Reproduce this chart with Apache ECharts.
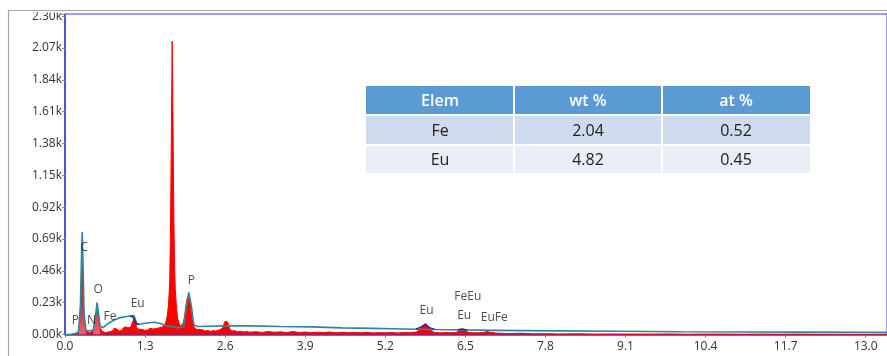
<!DOCTYPE html>
<html>
<head>
<meta charset="utf-8">
<script src="https://cdn.jsdelivr.net/npm/echarts@6/dist/echarts.min.js"></script>
<style>
  html, body { margin: 0; padding: 0; background: #ffffff; }
  #chart { width: 887px; height: 356px; }
</style>
</head>
<body>
<div id="chart"></div>
<script>
// EDS spectrum: energy (keV) vs counts
const specEnergy = [
  0.00, 0.10, 0.14, 0.18, 0.22, 0.24, 0.26, 0.27, 0.28, 0.29, 0.30, 0.32, 0.34, 0.36, 0.40, 0.44, 0.48, 0.50,
  0.52, 0.53, 0.55, 0.57, 0.60, 0.63, 0.66, 0.68, 0.70, 0.72, 0.74, 0.76, 0.78, 0.80, 0.82, 0.84, 0.86, 0.88,
  0.90, 0.92, 0.94, 0.96, 0.98, 1.00, 1.02, 1.04, 1.06, 1.08, 1.10, 1.12, 1.14, 1.16, 1.18, 1.20, 1.22, 1.24,
  1.26, 1.28, 1.30, 1.32, 1.34, 1.36, 1.38, 1.40, 1.42, 1.44, 1.46, 1.48, 1.50, 1.52, 1.54, 1.56, 1.58, 1.60,
  1.62, 1.64, 1.66, 1.68, 1.70, 1.71, 1.72, 1.73, 1.74, 1.75, 1.76, 1.77, 1.78, 1.79, 1.81, 1.83, 1.85, 1.87,
  1.89, 1.92, 1.94, 1.96, 1.98, 2.00, 2.02, 2.04, 2.06, 2.08, 2.10, 2.12, 2.14, 2.16, 2.18, 2.20, 2.24, 2.28,
  2.32, 2.36, 2.40, 2.44, 2.48, 2.52, 2.56, 2.58, 2.60, 2.62, 2.64, 2.66, 2.68, 2.72, 2.76, 2.80, 2.85, 2.90,
  2.95, 3.00, 3.10, 3.20, 3.30, 3.40, 3.50, 3.60, 3.70, 3.80, 3.90, 4.00, 4.10, 4.20, 4.30, 4.40, 4.50, 4.60,
  4.70, 4.80, 4.90, 5.00, 5.10, 5.20, 5.30, 5.40, 5.50, 5.60, 5.70, 5.75, 5.80, 5.85, 5.90, 5.95, 6.00, 6.10,
  6.20, 6.30, 6.35, 6.40, 6.45, 6.50, 6.55, 6.65, 6.75, 6.80, 6.85, 6.90, 7.00, 7.20, 7.40, 7.60, 7.80, 8.00,
  8.30, 8.60, 8.90, 9.20, 9.50, 9.80, 10.1, 10.4, 10.7, 11.0, 11.3, 11.6, 11.9, 12.2, 12.5, 12.8, 13.1, 13.4
];
const specCounts = [
  0, 0, 4, 8, 20, 80, 300, 480, 560, 420, 200, 60, 25, 15, 12, 20, 40, 110,
  170, 180, 120, 50, 25, 20, 12, 25, 18, 30, 22, 35, 28, 45, 55, 40, 30, 25,
  35, 30, 45, 38, 55, 42, 50, 60, 48, 70, 95, 110, 90, 55, 40, 50, 38, 45,
  35, 42, 30, 40, 32, 38, 45, 35, 40, 30, 42, 35, 45, 38, 50, 42, 55, 60,
  70, 95, 135, 210, 380, 680, 1100, 1600, 2120, 1720, 1180, 760, 480, 330, 190, 115, 80, 60,
  55, 80, 130, 200, 255, 275, 260, 195, 120, 75, 50, 40, 35, 30, 38, 28, 32, 25,
  30, 22, 28, 25, 30, 35, 50, 75, 95, 100, 90, 60, 35, 25, 28, 20, 24, 18,
  22, 17, 20, 15, 22, 16, 19, 14, 21, 15, 18, 13, 17, 14, 18, 12, 16, 13,
  15, 12, 16, 11, 14, 12, 15, 11, 14, 13, 18, 30, 60, 80, 55, 25, 15, 12,
  14, 13, 15, 28, 35, 30, 15, 12, 13, 15, 22, 16, 10, 7, 9, 5, 6, 4,
  5, 3, 4, 3, 3, 4, 2, 3, 3, 2, 3, 2, 3, 2, 2, 2, 2, 2
];

// Fitted background with C / O / P peaks
const fitEnergy = [
  0.00, 0.10, 0.18, 0.22, 0.25, 0.27, 0.28, 0.29, 0.31, 0.34, 0.40, 0.46, 0.50, 0.52, 0.54, 0.57, 0.62, 0.70,
  0.80, 0.90, 1.00, 1.08, 1.12, 1.15, 1.17, 1.25, 1.35, 1.45, 1.55, 1.62, 1.75, 1.85, 1.93, 1.97, 2.01, 2.05,
  2.09, 2.15, 2.30, 2.60, 3.00, 3.50, 4.00, 4.50, 5.00, 5.50, 6.00, 7.00, 8.00, 9.00, 10.0, 11.0, 12.0, 13.0, 13.4
];
const fitCounts = [
  0, 2, 8, 20, 200, 600, 740, 560, 150, 30, 25, 35, 150, 230, 170, 60, 50, 80,
  105, 122, 130, 135, 137, 100, 72, 78, 85, 88, 80, 65, 55, 48, 60, 200, 305, 210,
  70, 58, 60, 62, 62, 58, 55, 48, 44, 40, 36, 30, 26, 23, 20, 18, 17, 16, 15
];

// Shaded light-element peaks (C, O)
const lightPeakEnergy = [0.22, 0.25, 0.27, 0.28, 0.29, 0.31, 0.34, null, 0.46, 0.50, 0.52, 0.54, 0.57];
const lightPeakCounts = [20, 200, 600, 740, 560, 150, 30, null, 35, 150, 230, 170, 60];

// Eu M / Eu L fitted line segments
const euFitEnergy = [1.06, 1.10, 1.13, 1.16, 1.20, null, 5.70, 5.78, 5.85, 5.92, 6.00, null, 6.38, 6.45, 6.52];
const euFitCounts = [132, 128, 120, 78, 72, null, 38, 55, 72, 50, 36, null, 34, 40, 33];

// Element markers: [energy, counts, text]
const markerEnergy = [0.17, 0.43, 0.31, 0.54, 0.73, 1.18, 2.05, 5.87, 6.54, 6.48, 6.97];
const markerCounts = [98, 98, 625, 322, 127, 220, 387, 170, 271, 134, 119];
const markerText = ['P', 'N', 'C', 'O', 'Fe', 'Eu', 'P', 'Eu', 'FeEu', 'Eu', 'EuFe'];

// Quantification table
const tableHeader = ['Elem', 'wt %', 'at %'];
const tableElem = ['Fe', 'Eu'];
const tableWt = ['2.04', '4.82'];
const tableAt = ['0.52', '0.45'];

// Axis ticks
const xTickStep = 1.3;
const yTickStep = 230;

const zip = (xs, ys) => xs.map((x, i) => (x === null ? null : [x, ys[i]]));

const FONT = '"Open Sans", "Noto Sans", sans-serif';

// Table built as graphic elements
const tbl = { colX: [366, 514, 662, 810], rowY: [86, 115, 145, 174] };
const rowFill = ['#5b9bd5', '#cfdaee', '#e8edf7'];
const tableRows = [tableHeader].concat(tableElem.map((e, i) => [e, tableWt[i], tableAt[i]]));
const tableGraphics = [];
tableRows.forEach((row, r) => {
  row.forEach((txt, c) => {
    const x0 = tbl.colX[c], x1 = tbl.colX[c + 1];
    const y0 = tbl.rowY[r], y1 = tbl.rowY[r + 1];
    tableGraphics.push({
      type: 'rect', z: 50,
      shape: { x: x0 + (c ? 1 : 0), y: y0 + (r ? 1 : 0), width: x1 - x0 - (c ? 1 : 0) - (c < 2 ? 1 : 0), height: y1 - y0 - (r ? 1 : 0) - 1 },
      style: { fill: rowFill[r] }
    });
    tableGraphics.push({
      type: 'text', z: 51,
      x: (x0 + x1) / 2, y: (y0 + y1) / 2 + 1,
      style: {
        text: txt, align: 'center', verticalAlign: 'middle',
        font: (r === 0 ? '600 ' : '') + '16px ' + FONT,
        fill: r === 0 ? '#ffffff' : '#222222'
      }
    });
  });
});

const chart = echarts.init(document.getElementById('chart'), null, { renderer: 'canvas' });

chart.setOption({
  animation: false,
  backgroundColor: '#ffffff',
  grid: {
    left: 65, top: 14, width: 831, height: 320.5,
    show: true, borderColor: '#3a3ad0', borderWidth: 1, backgroundColor: '#ffffff'
  },
  xAxis: {
    type: 'value', min: 0, max: 13.345, interval: xTickStep,
    axisLine: { show: true, lineStyle: { color: '#3a3ad0', width: 1.5 } },
    axisTick: { show: true, length: 3, inside: false, lineStyle: { color: '#6a6ad8' } },
    splitLine: { show: false },
    axisLabel: {
      color: '#333333', fontSize: 12, fontFamily: FONT, margin: 6,
      showMaxLabel: false,
      formatter: v => {
        const k = v / xTickStep;
        return Math.abs(k - Math.round(k)) < 1e-6 ? v.toFixed(1) : '';
      }
    }
  },
  yAxis: {
    type: 'value', min: 0, max: 2316, interval: yTickStep,
    axisLine: { show: true, lineStyle: { color: '#3a3ad0', width: 1.5 } },
    axisTick: { show: true, length: 3, lineStyle: { color: '#888888' } },
    splitLine: { show: false },
    axisLabel: {
      color: '#333333', fontSize: 12, fontFamily: FONT, margin: 3,
      formatter: v => {
        const k = v / yTickStep;
        return Math.abs(k - Math.round(k)) < 1e-6 ? (v / 1000).toFixed(2) + 'k' : '';
      }
    }
  },
  series: [
    {
      name: 'spectrum', type: 'line', z: 2,
      data: zip(specEnergy, specCounts),
      showSymbol: false, symbol: 'none',
      lineStyle: { color: '#ff0000', width: 1 },
      areaStyle: { color: '#ff0000', opacity: 1 }
    },
    {
      name: 'light peaks', type: 'line', z: 3, connectNulls: false,
      data: zip(lightPeakEnergy, lightPeakCounts),
      showSymbol: false, symbol: 'none',
      lineStyle: { width: 0 },
      areaStyle: {
        color: {
          type: 'linear', x: 0, y: 0, x2: 0, y2: 1,
          colorStops: [
            { offset: 0, color: 'rgba(40,150,150,0.95)' },
            { offset: 0.35, color: 'rgba(80,100,100,0.9)' },
            { offset: 0.7, color: 'rgba(170,70,70,0.85)' },
            { offset: 1, color: 'rgba(240,160,160,0.9)' }
          ]
        }
      }
    },
    {
      name: 'fit', type: 'line', z: 4,
      data: zip(fitEnergy, fitCounts),
      showSymbol: false, symbol: 'none',
      lineStyle: { color: '#2b86a0', width: 1.6 }
    },
    {
      name: 'Eu fit', type: 'line', z: 5, connectNulls: false,
      data: zip(euFitEnergy, euFitCounts),
      showSymbol: false, symbol: 'none',
      lineStyle: { color: '#1c2a9a', width: 1.5 }
    },
    {
      name: 'markers', type: 'scatter', z: 6,
      symbolSize: 0,
      data: markerEnergy.map((e, i) => ({ value: [e, markerCounts[i]], name: markerText[i] })),
      label: {
        show: true, position: 'inside', formatter: p => p.name,
        color: '#222222', fontSize: 12, fontFamily: FONT
      }
    }
  ],
  graphic: tableGraphics.concat([
    { type: 'rect', z: 100, shape: { x: 0, y: 0, width: 887, height: 12.5 }, style: { fill: '#ffffff' } },
    { type: 'rect', z: 100, shape: { x: 0, y: 0, width: 8, height: 356 }, style: { fill: '#ffffff' } },
    { type: 'line', z: 101, shape: { x1: 8, y1: 10.5, x2: 887, y2: 10.5 }, style: { stroke: '#a6a6a6', lineWidth: 1.2 } },
    { type: 'line', z: 101, shape: { x1: 8.5, y1: 10.5, x2: 8.5, y2: 356 }, style: { stroke: '#a6a6a6', lineWidth: 1.2 } }
  ])
});
</script>
</body>
</html>
